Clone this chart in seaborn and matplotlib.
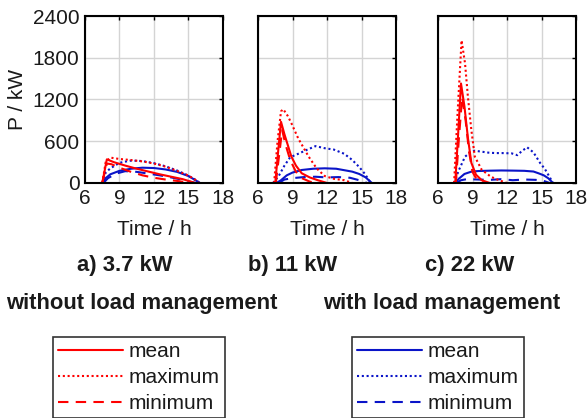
import numpy as np
import pandas as pd
import seaborn as sns
import matplotlib.pyplot as plt
from matplotlib.lines import Line2D

# ---- data (time in h, power in kW) ----
# a) 3.7 kW
t_a_mean_wo = [7.5, 7.9, 8.5, 9.5, 10.5, 11.5, 12.5, 13.5, 14.5, 15.2, 15.6]
p_a_mean_wo = [0, 340, 300, 250, 205, 165, 125, 90, 55, 20, 0]
t_a_max_wo = [7.5, 7.8, 8.2, 9.0, 10.0, 11.0, 12.0, 13.0, 14.0, 14.8, 15.5, 15.9]
p_a_max_wo = [0, 300, 365, 345, 330, 310, 280, 235, 175, 120, 60, 0]
t_a_min_wo = [7.5, 7.9, 8.3, 9.0, 10.0, 11.0, 12.0, 13.0, 14.0, 14.6, 15.0]
p_a_min_wo = [0, 280, 270, 220, 160, 110, 75, 50, 30, 15, 0]
t_a_mean_w = [7.5, 7.8, 8.2, 9.0, 10.0, 11.0, 12.0, 13.0, 14.0, 15.0, 15.6, 16.0]
p_a_mean_w = [0, 70, 125, 175, 205, 220, 215, 195, 160, 100, 40, 0]
t_a_max_w = [7.5, 7.8, 8.2, 9.0, 9.9, 10.5, 11.0, 12.0, 13.0, 14.0, 14.8, 15.4, 16.0]
p_a_max_w = [0, 150, 210, 290, 320, 320, 315, 285, 240, 180, 120, 65, 0]
t_a_min_w = [7.6, 8.0, 8.7, 9.5, 10.5, 11.5, 12.5, 13.5, 14.5, 15.2, 15.6]
p_a_min_w = [0, 70, 135, 170, 160, 135, 110, 80, 45, 15, 0]

# b) 11 kW
t_b_mean_wo = [7.5, 7.75, 8.0, 8.3, 8.6, 8.9, 9.3, 9.8, 10.5, 11.2, 12.0]
p_b_mean_wo = [0, 450, 880, 700, 540, 380, 250, 140, 80, 40, 0]
t_b_max_wo = [7.4, 7.7, 8.0, 8.2, 8.6, 8.9, 9.5, 10.4, 11.1, 11.8, 12.6, 13.5, 14.2]
p_b_max_wo = [0, 600, 1030, 1060, 960, 860, 640, 380, 210, 100, 60, 40, 0]
t_b_min_wo = [7.55, 7.8, 8.1, 8.4, 8.8, 9.3, 9.8, 10.5, 11.0]
p_b_min_wo = [0, 350, 760, 550, 330, 160, 70, 20, 0]
t_b_mean_w = [7.6, 8.0, 8.5, 9.0, 9.8, 10.8, 11.8, 12.8, 14.2, 14.8, 15.35, 15.9]
p_b_mean_w = [0, 40, 110, 150, 187, 205, 211, 205, 163, 130, 82, 0]
t_b_max_w = [7.3, 7.8, 8.3, 8.8, 9.5, 10.3, 11.0, 11.8, 12.6, 13.5, 14.2, 14.8, 15.3, 15.8]
p_b_max_w = [0, 100, 250, 370, 420, 480, 530, 500, 480, 420, 330, 230, 130, 0]
t_b_min_w = [7.8, 8.3, 9.0, 10.0, 11.0, 12.0, 13.0, 14.0, 14.8, 15.5]
p_b_min_w = [0, 50, 70, 85, 90, 80, 85, 75, 40, 0]

# c) 22 kW
t_c_mean_wo = [7.5, 7.75, 8.0, 8.3, 8.6, 8.9, 9.3, 9.8, 10.5]
p_c_mean_wo = [0, 700, 1430, 1100, 650, 290, 120, 40, 0]
t_c_max_wo = [7.4, 7.7, 8.05, 8.35, 8.6, 8.9, 9.2, 9.8, 10.6, 11.3, 12.0]
p_c_max_wo = [0, 1000, 2050, 1720, 1240, 760, 380, 190, 90, 40, 0]
t_c_min_wo = [7.55, 7.8, 8.1, 8.4, 8.7, 9.0, 9.4, 10.0]
p_c_min_wo = [0, 600, 1240, 900, 450, 160, 40, 0]
t_c_mean_w = [7.5, 7.8, 8.3, 8.9, 9.5, 10.5, 11.5, 12.5, 13.5, 14.3, 14.75, 15.2, 15.6, 16.0]
p_c_mean_w = [0, 60, 130, 163, 172, 177, 180, 178, 175, 165, 139, 110, 67, 0]
t_c_max_w = [7.4, 7.8, 8.35, 8.8, 9.2, 9.8, 10.4, 11.0, 11.6, 12.4, 12.9, 13.3, 13.75, 14.3, 14.9, 15.3, 15.6, 16.0]
p_c_max_w = [0, 180, 378, 440, 464, 450, 436, 430, 430, 426, 400, 460, 513, 440, 283, 200, 115, 0]
t_c_min_w = [7.6, 8.0, 8.5, 9.5, 10.5, 11.5, 12.5, 13.5, 14.5, 15.2, 15.7]
p_c_min_w = [0, 40, 55, 50, 45, 55, 40, 50, 45, 30, 0]

panel_titles = ['a) 3.7 kW', 'b) 11 kW', 'c) 22 kW']
stat_labels = ['mean', 'maximum', 'minimum']
x_ticks = [6, 9, 12, 15, 18]
y_ticks = [0, 600, 1200, 1800, 2400]

panels = [
    [(t_a_mean_wo, p_a_mean_wo), (t_a_max_wo, p_a_max_wo), (t_a_min_wo, p_a_min_wo),
     (t_a_mean_w, p_a_mean_w), (t_a_max_w, p_a_max_w), (t_a_min_w, p_a_min_w)],
    [(t_b_mean_wo, p_b_mean_wo), (t_b_max_wo, p_b_max_wo), (t_b_min_wo, p_b_min_wo),
     (t_b_mean_w, p_b_mean_w), (t_b_max_w, p_b_max_w), (t_b_min_w, p_b_min_w)],
    [(t_c_mean_wo, p_c_mean_wo), (t_c_max_wo, p_c_max_wo), (t_c_min_wo, p_c_min_wo),
     (t_c_mean_w, p_c_mean_w), (t_c_max_w, p_c_max_w), (t_c_min_w, p_c_min_w)],
]

sns.set_theme(style='whitegrid')
plt.rcParams['font.family'] = ['Liberation Sans', 'DejaVu Sans']
plt.rcParams['text.color'] = '#1a1a1a'

RED = '#ff0000'
BLUE = '#0a14c8'
styles = ['-', (0, (1, 1.3)), (0, (5, 3.5))]
colors = [RED] * 3 + [BLUE] * 3
lstyles = styles + styles

fig = plt.figure(figsize=(5.87, 4.18), dpi=100)
W, H = 587, 418
lefts = [85, 258, 438]
axes = []
for i, left in enumerate(lefts):
    ax = fig.add_axes([left / W, 1 - 183 / H, 138 / W, 167 / H])
    # blue (with lm) first, red on top
    for k in [3, 4, 5, 0, 1, 2]:
        t, p = panels[i][k]
        sns.lineplot(x=t, y=p, ax=ax, color=colors[k], linestyle=lstyles[k],
                     linewidth=1.5, estimator=None, sort=False)
    ax.set_xlim(6, 18)
    ax.set_ylim(0, 2400)
    ax.set_xticks(x_ticks)
    ax.set_yticks(y_ticks)
    ax.grid(True, color='#d4d4d4', linewidth=1)
    for s in ax.spines.values():
        s.set_color('black')
        s.set_linewidth(1.5)
    ax.tick_params(direction='in', top=True, right=True, length=3, width=1,
                   colors='black', labelcolor='#1a1a1a', labelsize=15, pad=4)
    if i > 0:
        ax.set_yticklabels([])
    ax.set_xlabel('Time / h', fontsize=15, labelpad=9, color='#1a1a1a')
    axes.append(ax)

axes[0].set_ylabel('P / kW', fontsize=15, labelpad=4, color='#1a1a1a')

title_x = [125, 293, 470]
for tx, title in zip(title_x, panel_titles):
    fig.text(tx / W, 1 - 266 / H, title, fontsize=15.8, fontweight='bold',
             ha='center', va='center')

fig.text(142 / W, 1 - 303 / H, 'without load management', fontsize=15.8,
         fontweight='bold', ha='center', va='center')
fig.text(442 / W, 1 - 303 / H, 'with load management', fontsize=15.8,
         fontweight='bold', ha='center', va='center')

for col, lx in [(RED, 53), (BLUE, 352)]:
    handles = [Line2D([], [], color=col, linestyle=ls, linewidth=1.5) for ls in styles]
    leg = fig.legend(handles, stat_labels, loc='upper left',
                     bbox_to_anchor=(lx / W, 1 - 337 / H), borderaxespad=0,
                     fontsize=15, frameon=True, fancybox=False, handlelength=3.1,
                     handletextpad=0.3, labelspacing=0.33, borderpad=0.25)
    leg.get_frame().set_edgecolor('#333333')
    leg.get_frame().set_linewidth(1.2)
    leg.get_frame().set_alpha(1)

fig.savefig('out.png', dpi=100)
